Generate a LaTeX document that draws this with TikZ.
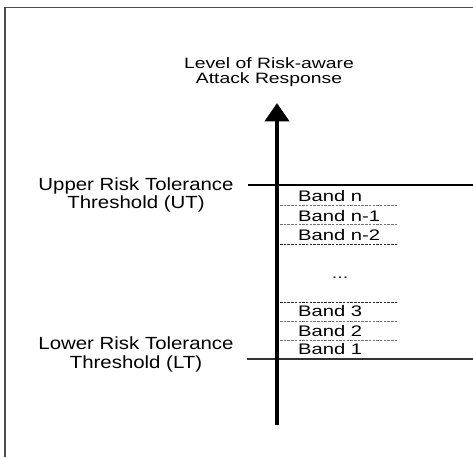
\documentclass[tikz,border=0pt]{standalone}
\usepackage{fontspec}
\setmainfont{Liberation Sans}
\usetikzlibrary{arrows.meta}
\newcommand{\wtxt}[2]{\scalebox{#1}[1]{#2}}
\tikzset{
  frame/.style={draw=black!70, line width=1.6pt},
  thresh/.style={draw=black, line width=2pt},
  threshlow/.style={draw=black!80, line width=1.7pt},
  bandline/.style={draw=black!55, line width=0.9pt, dash pattern=on 2.5pt off 1.2pt},
  banddark/.style={draw=black!85, line width=1pt, dash pattern=on 2.5pt off 1.2pt},
  title/.style={inner sep=0pt, align=center, font=\fontsize{15}{15}\selectfont, text=black},
  label/.style={inner sep=0pt, align=center, font=\fontsize{17.6}{18.2}\selectfont, text=black},
  bandtxt/.style={inner sep=0pt, anchor=base west, font=\fontsize{15.3}{15.3}\selectfont, text=black},
  axis/.style={line width=4.6pt, -{Triangle[length=18.5pt,width=24pt]}}
}
\begin{document}
\begin{tikzpicture}[x=1pt,y=-1pt]
\useasboundingbox (0,0) rectangle (473,457);
% frame
\draw[frame] (4.7,457) -- (4.7,7.5) -- (473,7.5);
% named coordinates
\coordinate (axbot) at (277,425);
\coordinate (axtop) at (277,103);
\coordinate (utL) at (248,185);
\coordinate (utR) at (473,185);
\coordinate (ltL) at (247,359);
\coordinate (ltR) at (473,359);
\foreach \n/\y in {b1/205, b2/224.3, b3/244, b4/302.3, b5/321, b6/340}{
  \coordinate (\n L) at (280,\y);
  \coordinate (\n R) at (397,\y);
}
% threshold lines
\draw[thresh] (utL) -- (utR);
\draw[threshlow] (ltL) -- (ltR);
% band separators
\draw[bandline] (b1L) -- (b1R);
\draw[bandline] (b2L) -- (b2R);
\draw[banddark] (b3L) -- (b3R);
\draw[banddark] (b4L) -- (b4R);
\draw[bandline] (b5L) -- (b5R);
\draw[bandline] (b6L) -- (b6R);
% axis arrow
\draw[axis] (axbot) -- (axtop);
% texts
\node[title, anchor=base] (ttl) at (269,83.3) {\wtxt{1.29}{Level of Risk-aware}\\\wtxt{1.29}{Attack Response}};
\node[label, anchor=base] (ut) at (136,208.3) {\wtxt{1.16}{Upper Risk Tolerance}\\\wtxt{1.16}{Threshold (UT)}};
\node[label, anchor=base] (lt) at (136,368) {\wtxt{1.16}{Lower Risk Tolerance}\\\wtxt{1.16}{Threshold (LT)}};
\node[bandtxt] (bn) at (298,201.7) {\wtxt{1.32}{Band n}};
\node[bandtxt] (bn1) at (298,221) {\wtxt{1.32}{Band n-1}};
\node[bandtxt] (bn2) at (298,240.3) {\wtxt{1.32}{Band n-2}};
\node[inner sep=0pt, anchor=base, font=\fontsize{15}{15}\selectfont, text=black!85] (dots) at (340,278) {\wtxt{1.32}{...}};
\node[bandtxt] (bb3) at (298,316.8) {\wtxt{1.32}{Band 3}};
\node[bandtxt] (bb2) at (298,336) {\wtxt{1.32}{Band 2}};
\node[bandtxt] (bb1) at (298,354.5) {\wtxt{1.32}{Band 1}};
\end{tikzpicture}
\end{document}
